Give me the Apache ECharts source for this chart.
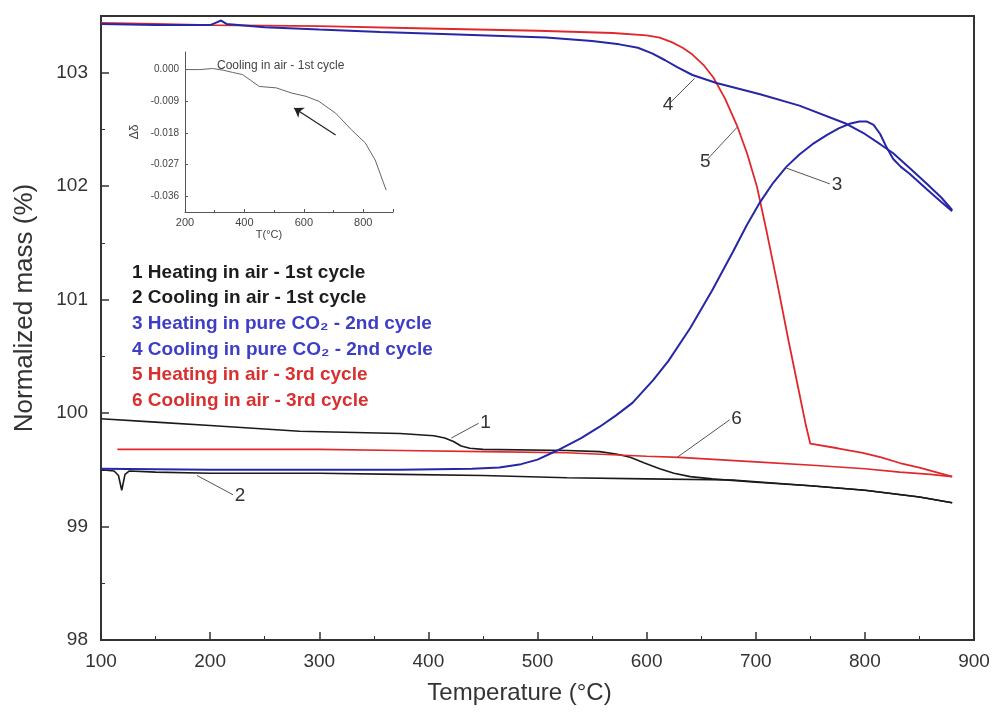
<!DOCTYPE html>
<html lang="en">
  <head>
    <meta charset="UTF-8" />
    <title>Normalized mass vs temperature</title>
    <script src="https://cdn.jsdelivr.net/npm/echarts@6.0.0/dist/echarts.min.js"></script>
  </head>
  <body style="margin:0;background:#fff">
    <style>
      #chart {
        width: 997px;
        height: 713px;
      }
    </style>
    <div id="chart"></div>

    <script>
      // [temperature °C, normalized mass %]
      const heatAir1 = [
        [100, 99.95], [150, 99.92], [200, 99.89], [282, 99.84], [374, 99.82], [405, 99.8],
        [415, 99.78], [423, 99.75], [430, 99.71], [438, 99.69], [450, 99.68], [527, 99.67],
        [557, 99.66], [572, 99.64], [585, 99.61], [598, 99.56], [612, 99.51], [625, 99.47],
        [640, 99.44], [660, 99.42], [700, 99.39], [750, 99.36], [800, 99.32], [850, 99.26],
        [880, 99.21]
      ];
      const coolAir1 = [
        [100, 99.5], [112, 99.49], [116, 99.45], [119, 99.32], [122, 99.46], [126, 99.49],
        [150, 99.48], [200, 99.47], [300, 99.47], [374, 99.46], [450, 99.45], [527, 99.43],
        [600, 99.42], [679, 99.41], [750, 99.36], [800, 99.32], [850, 99.26], [880, 99.21]
      ];
      const heatCO2 = [
        [100, 99.51], [200, 99.5], [300, 99.5], [374, 99.5], [440, 99.51], [465, 99.52],
        [485, 99.55], [500, 99.59], [518, 99.67], [540, 99.78], [557, 99.88], [572, 99.98],
        [587, 100.09], [606, 100.29], [620, 100.46], [640, 100.75], [660, 101.08], [679, 101.42],
        [692, 101.66], [704, 101.86], [716, 102.03], [728, 102.17], [740, 102.28], [752, 102.37],
        [765, 102.45], [776, 102.51], [786, 102.55], [795, 102.57], [802, 102.57], [808, 102.54],
        [814, 102.46], [820, 102.34], [826, 102.24], [833, 102.17], [841, 102.11], [857, 101.97],
        [870, 101.86], [880, 101.78]
      ];
      const coolCO2 = [
        [100, 103.43], [150, 103.42], [200, 103.42], [205, 103.44], [210, 103.46], [215, 103.43],
        [250, 103.4], [300, 103.38], [356, 103.36], [420, 103.34], [508, 103.31], [550, 103.28],
        [575, 103.25], [592, 103.22], [605, 103.17], [617, 103.11], [628, 103.05], [642, 102.98],
        [664, 102.91], [704, 102.81], [740, 102.71], [783, 102.55], [800, 102.46], [814, 102.37],
        [826, 102.29], [841, 102.16], [857, 102.02], [870, 101.9], [880, 101.79]
      ];
      const heatAir3 = [
        [100, 103.44], [150, 103.43], [200, 103.42], [300, 103.41], [400, 103.39], [500, 103.37],
        [569, 103.35], [600, 103.33], [612, 103.31], [623, 103.27], [633, 103.22], [642, 103.16],
        [652, 103.07], [661, 102.96], [672, 102.77], [683, 102.53], [692, 102.29], [701, 102.0],
        [710, 101.6], [720, 101.13], [730, 100.64], [740, 100.17], [746, 99.89], [750, 99.73],
        [775, 99.69], [798, 99.65], [815, 99.61], [832, 99.56], [850, 99.52], [865, 99.48],
        [880, 99.44]
      ];
      const coolAir3 = [
        [115, 99.68], [200, 99.68], [300, 99.68], [374, 99.67], [450, 99.66], [527, 99.65],
        [600, 99.62], [630, 99.61], [700, 99.57], [752, 99.54], [800, 99.51], [832, 99.48],
        [860, 99.46], [880, 99.44]
      ];

      // inset: [T °C, Δδ]
      const insetCool = [
        [200, 0.0], [250, 0.0], [293, 0.0003], [330, -0.0002], [360, -0.0008], [393, -0.0014],
        [420, -0.003], [450, -0.0048], [507, -0.0052], [560, -0.0067], [607, -0.0076],
        [650, -0.009], [707, -0.0124], [760, -0.0171], [807, -0.0209], [840, -0.0257], [877, -0.0343]
      ];
      const insetTicks = [0, -0.009, -0.018, -0.027, -0.036];

      const legendLines = [
        '1 Heating in air - 1st cycle',
        '2 Cooling in air - 1st cycle',
        '3 Heating in pure CO₂ - 2nd cycle',
        '4 Cooling in pure CO₂ - 2nd cycle',
        '5 Heating in air - 3rd cycle',
        '6 Cooling in air - 3rd cycle'
      ];
      const legendColors = ['#1c1c1c', '#1c1c1c', '#3d3dc8', '#3d3dc8', '#d9302f', '#d9302f'];

      // callout number, curve point, label point
      const callouts = [
        ['1', [421, 99.78], [446, 99.91]],
        ['2', [188, 99.45], [221, 99.28]],
        ['3', [728, 102.16], [768, 102.02]],
        ['4', [644, 102.95], [621, 102.73]],
        ['5', [683, 102.52], [655, 102.23]],
        ['6', [628, 99.61], [676, 99.94]]
      ];

      const FONT = '"Liberation Sans", Arial, sans-serif';
      const BLACK = '#1a1a1a';
      const BLUE = '#2626a6';
      const RED = '#e0282c';

      function calloutLine(i) {
        const c = callouts[i];
        return {
          symbol: 'none',
          silent: true,
          lineStyle: { color: '#555', width: 1, type: 'solid' },
          label: {
            show: true,
            position: 'end',
            formatter: c[0],
            color: '#333',
            fontFamily: FONT,
            fontSize: 19,
            distance: 2
          },
          data: [[{ coord: c[1] }, { coord: c[2] }]]
        };
      }

      function curve(name, data, color, width, mark) {
        return {
          name: name,
          type: 'line',
          xAxisIndex: 0,
          yAxisIndex: 0,
          data: data,
          showSymbol: false,
          lineStyle: { color: color, width: width },
          markLine: mark
        };
      }

      const chart = echarts.init(document.getElementById('chart'));

      chart.setOption({
        animation: false,
        backgroundColor: '#fff',
        title: {
          text: 'Cooling in air - 1st cycle',
          left: 212,
          top: 55,
          textStyle: { fontFamily: FONT, fontSize: 12, fontWeight: 'normal', color: '#444' }
        },
        grid: [
          { left: 101, right: 23, top: 16, bottom: 73, show: true, borderColor: '#333', borderWidth: 2 },
          { left: 185, top: 52, width: 208, height: 160 }
        ],
        xAxis: [
          {
            type: 'value',
            gridIndex: 0,
            min: 100,
            max: 900,
            interval: 100,
            name: 'Temperature (°C)',
            nameLocation: 'middle',
            nameGap: 41,
            nameTextStyle: { fontFamily: FONT, fontSize: 24, color: '#333', padding: [0, 36, 0, 0] },
            axisLine: { onZero: false, lineStyle: { color: '#333', width: 2 } },
            axisTick: { inside: true, length: 8, lineStyle: { color: '#333', width: 1.5 } },
            minorTick: { show: true, splitNumber: 2, length: 4, lineStyle: { color: '#333' } },
            axisLabel: { fontFamily: FONT, fontSize: 19, color: '#333', margin: 12 },
            splitLine: { show: false }
          },
          {
            type: 'value',
            gridIndex: 1,
            min: 200,
            max: 900,
            interval: 200,
            name: 'T(°C)',
            nameLocation: 'middle',
            nameGap: 17,
            nameTextStyle: { fontFamily: FONT, fontSize: 11, color: '#444', padding: [0, 40, 0, 0] },
            axisLine: { onZero: false, lineStyle: { color: '#555', width: 1 } },
            axisTick: { inside: true, length: 3, lineStyle: { color: '#555' } },
            minorTick: { show: true, splitNumber: 2, length: 2, lineStyle: { color: '#555' } },
            axisLabel: { fontFamily: FONT, fontSize: 11, color: '#444', margin: 5, showMaxLabel: false },
            splitLine: { show: false }
          }
        ],
        yAxis: [
          {
            type: 'value',
            gridIndex: 0,
            min: 98,
            max: 103.5,
            interval: 1,
            name: 'Normalized mass (%)',
            nameLocation: 'middle',
            nameGap: 63,
            nameTextStyle: { fontFamily: FONT, fontSize: 26, color: '#333', padding: [0, 0, 0, 40] },
            axisLine: { onZero: false, lineStyle: { color: '#333', width: 2 } },
            axisTick: { inside: true, length: 8, lineStyle: { color: '#333', width: 1.5 } },
            minorTick: { show: true, splitNumber: 2, length: 4, lineStyle: { color: '#333' } },
            axisLabel: { fontFamily: FONT, fontSize: 19, color: '#333', margin: 13, showMaxLabel: false },
            splitLine: { show: false }
          },
          {
            type: 'value',
            gridIndex: 1,
            min: -0.0405,
            max: 0.005,
            name: 'Δδ',
            nameLocation: 'middle',
            nameGap: 44,
            nameRotate: 90,
            nameTextStyle: { fontFamily: FONT, fontSize: 12, color: '#444' },
            axisLine: { onZero: false, lineStyle: { color: '#555', width: 1 } },
            axisTick: { inside: true, length: 3, customValues: insetTicks, lineStyle: { color: '#555' } },
            axisLabel: {
              fontFamily: FONT,
              fontSize: 10,
              color: '#444',
              margin: 6,
              customValues: insetTicks,
              formatter: (v) => v.toFixed(3)
            },
            splitLine: { show: false }
          }
        ],
        series: [
          curve('1', heatAir1, BLACK, 1.6, calloutLine(0)),
          curve('2', coolAir1, BLACK, 1.6, calloutLine(1)),
          curve('6', coolAir3, RED, 1.6, calloutLine(5)),
          curve('5', heatAir3, RED, 1.8, calloutLine(4)),
          curve('3', heatCO2, BLUE, 2, calloutLine(2)),
          curve('4', coolCO2, BLUE, 2, calloutLine(3)),
          {
            name: 'inset',
            type: 'line',
            xAxisIndex: 1,
            yAxisIndex: 1,
            data: insetCool,
            showSymbol: false,
            lineStyle: { color: '#666', width: 1 },
            markLine: {
              symbol: ['none', 'arrow'],
              symbolSize: 9,
              silent: true,
              label: { show: false },
              lineStyle: { color: '#222', width: 1.2, type: 'solid' },
              data: [[{ coord: [707, -0.0186] }, { coord: [567, -0.0109] }]]
            }
          }
        ],
        graphic: legendLines.map((t, i) => ({
          type: 'text',
          left: 132,
          top: 263 + i * 25.6,
          style: {
            text: t,
            fill: legendColors[i],
            font: 'bold 19px "Liberation Sans", Arial, sans-serif'
          }
        }))
      });
    </script>
  </body>
</html>
